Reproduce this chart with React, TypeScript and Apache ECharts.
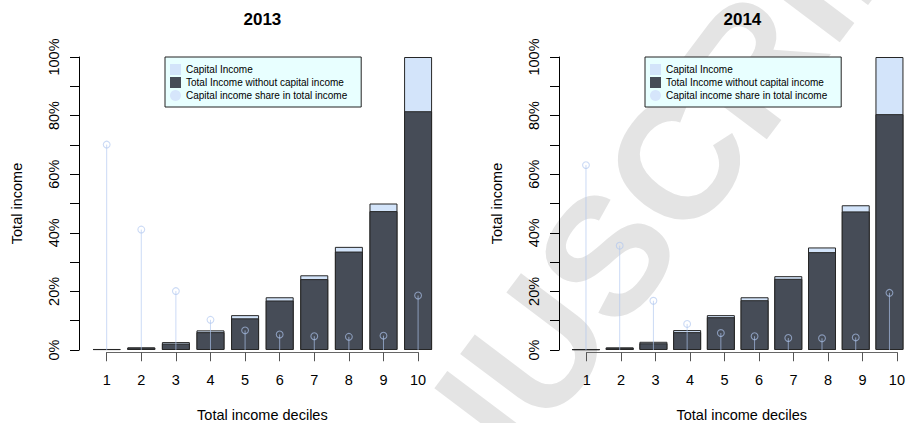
import { useEffect, useRef } from "react";
import * as echarts from "echarts";

// Income deciles on the horizontal axis
const DECILES = [1, 2, 3, 4, 5, 6, 7, 8, 9, 10];

// Total income of each decile, as % of the top decile
const totalIncome2013 = [0.35, 0.9, 2.7, 6.7, 11.9, 18.0, 25.5, 35.2, 50.0, 100];
const withoutCapital2013 = [0.3, 0.8, 2.2, 6.1, 10.8, 16.9, 24.2, 33.6, 47.4, 81.5];
// Capital income share in the decile's total income (%)
const capitalShare2013 = [70.1, 41.1, 20.1, 10.3, 6.7, 5.3, 4.7, 4.5, 4.9, 18.6];

const totalIncome2014 = [0.3, 0.9, 2.8, 6.8, 11.9, 18.0, 25.2, 35.0, 49.4, 100];
const withoutCapital2014 = [0.25, 0.75, 2.3, 6.1, 11.2, 17.0, 24.3, 33.4, 47.3, 80.5];
const capitalShare2014 = [63.1, 35.6, 16.8, 8.9, 5.8, 4.7, 4.1, 4.0, 4.3, 19.5];

const Y_TICKS = [0, 20, 40, 60, 80, 100];

const FONT = "'Liberation Sans', Arial, Helvetica, sans-serif";
const DARK = "#464C57";
const LIGHT = "#D3E4FA";
const STEM = "rgba(175,198,240,0.65)";
const BORDER = "#262626";

const NAME_CAP = "Capital Income";
const NAME_REST = "Total Income without capital income";
const NAME_SHARE = "Capital income share in total income";

// panel geometry
const UNIT = 34.6; // px per decile
const X_MIN = 0.2;
const X_MAX = 10.55;
const AXIS_LEFT = 79;
const PLOT_TOP = 57;
const PLOT_H = 293;

function panel(
  idx: number,
  year: string,
  total: number[],
  without: number[],
  share: number[],
  ox: number
) {
  const main = idx * 2;
  const axisGrid = idx * 2 + 1;
  const centre = ox + AXIS_LEFT + (1 - X_MIN) * UNIT + 4.5 * UNIT;

  const grids = [
    { left: ox + AXIS_LEFT, top: PLOT_TOP, width: (X_MAX - X_MIN) * UNIT, height: PLOT_H },
    {
      left: ox + AXIS_LEFT + (1 - X_MIN) * UNIT,
      top: PLOT_TOP + PLOT_H + 2,
      width: 9 * UNIT,
      height: 1,
    },
  ];

  const xAxes = [
    { gridIndex: main, type: "value", min: X_MIN, max: X_MAX, show: false },
    {
      gridIndex: axisGrid,
      type: "value",
      min: 1,
      max: 10,
      interval: 1,
      axisLine: { show: true, lineStyle: { color: "#666", width: 1 } },
      axisTick: { show: true, length: 9, lineStyle: { color: "#555", width: 1 } },
      axisLabel: { fontSize: 14.5, color: "#000", margin: 20, fontFamily: FONT },
      splitLine: { show: false },
      name: "Total income deciles",
      nameLocation: "middle",
      nameGap: 55,
      nameTextStyle: { fontSize: 14.5, color: "#000", fontFamily: FONT },
    },
  ];

  const yAxes = [
    {
      gridIndex: main,
      type: "value",
      min: 0,
      max: 100,
      interval: 10,
      axisLine: { show: true, lineStyle: { color: "#000", width: 1 } },
      axisTick: { show: true, length: 9, lineStyle: { color: "#000", width: 1 } },
      axisLabel: {
        rotate: 90,
        margin: 18,
        fontSize: 14.5,
        color: "#000",
        fontFamily: FONT,
        formatter: (v: number) => (Y_TICKS.includes(v) ? `${v}%` : ""),
      },
      splitLine: { show: false },
      name: "Total income",
      nameLocation: "middle",
      nameRotate: 90,
      nameGap: 55,
      nameTextStyle: { fontSize: 14.5, color: "#000", fontFamily: FONT },
    },
    { gridIndex: axisGrid, type: "value", min: 0, max: 1, show: false },
  ];

  const series = [
    {
      // full bar: total income of the decile
      name: NAME_CAP,
      type: "bar",
      xAxisIndex: main,
      yAxisIndex: main,
      barWidth: 28,
      barGap: "-100%",
      itemStyle: { color: LIGHT, borderColor: BORDER, borderWidth: 1 },
      data: DECILES.map((d, i) => [d, total[i]]),
      z: 2,
    },
    {
      // inner bar: income without the capital part
      name: NAME_REST,
      type: "bar",
      xAxisIndex: main,
      yAxisIndex: main,
      barWidth: 28,
      barGap: "-100%",
      itemStyle: { color: DARK, borderColor: BORDER, borderWidth: 1 },
      data: DECILES.map((d, i) => [d, without[i]]),
      z: 3,
    },
    {
      name: NAME_SHARE,
      type: "custom",
      xAxisIndex: main,
      yAxisIndex: main,
      encode: { x: 0, y: 1 },
      itemStyle: { color: STEM },
      data: DECILES.map((d, i) => [d, share[i]]),
      z: 5,
      renderItem: (_params: any, api: any) => {
        const x = api.value(0);
        const v = api.value(1);
        const base = api.coord([x, 0]);
        const top = api.coord([x, v]);
        return {
          type: "group",
          children: [
            {
              type: "line",
              shape: { x1: base[0], y1: base[1], x2: top[0], y2: top[1] },
              style: { stroke: STEM, lineWidth: 1 },
            },
            {
              type: "circle",
              shape: { cx: top[0], cy: top[1], r: 3.4 },
              style: { fill: "none", stroke: STEM, lineWidth: 1.1 },
            },
          ],
        };
      },
    },
  ];

  const title = {
    text: year,
    left: centre,
    top: 11,
    textAlign: "center",
    padding: 0,
    textStyle: { fontSize: 17, fontWeight: "bold", color: "#000", fontFamily: FONT },
  };

  const legend = {
    orient: "vertical",
    left: ox + 165,
    top: 57,
    itemWidth: 11,
    itemHeight: 11,
    itemGap: 2,
    padding: [7, 14, 6, 5],
    backgroundColor: "#E8FFFF",
    borderColor: "#222",
    borderWidth: 1,
    borderRadius: 0,
    selectedMode: false,
    itemStyle: { borderWidth: 0 },
    textStyle: { fontSize: 10, color: "#000", fontFamily: FONT },
    data: [
      { name: NAME_CAP, icon: "rect", itemStyle: { color: LIGHT, borderWidth: 0 } },
      { name: NAME_REST, icon: "rect", itemStyle: { color: DARK, borderWidth: 0 } },
      { name: NAME_SHARE, icon: "circle", itemStyle: { color: "#D6E6FB", borderWidth: 0 } },
    ],
  };

  return { grids, xAxes, yAxes, series, title, legend };
}

function buildOption() {
  const p1 = panel(0, "2013", totalIncome2013, withoutCapital2013, capitalShare2013, 0);
  const p2 = panel(1, "2014", totalIncome2014, withoutCapital2014, capitalShare2014, 480);
  return {
    animation: false,
    backgroundColor: "#fff",
    textStyle: { fontFamily: FONT },
    title: [p1.title, p2.title],
    legend: [p1.legend, p2.legend],
    grid: [...p1.grids, ...p2.grids],
    xAxis: [...p1.xAxes, ...p2.xAxes],
    yAxis: [...p1.yAxes, ...p2.yAxes],
    series: [...p1.series, ...p2.series],
    graphic: {
      elements: [
        {
          // diagonal watermark across the second panel
          type: "text",
          x: 607,
          y: 255,
          rotation: (53 * Math.PI) / 180,
          z: -10,
          silent: true,
          style: {
            text: "MANUSCRIPT",
            fontSize: 168,
            fontWeight: "bold",
            fontFamily: FONT,
            fill: "#E4E4E4",
            align: "center",
            verticalAlign: "middle",
          },
        },
      ],
    },
  };
}

export default function App() {
  const ref = useRef<HTMLDivElement>(null);
  useEffect(() => {
    document.body.style.margin = "0";
    const chart = echarts.init(ref.current!, null, { renderer: "svg" });
    chart.setOption(buildOption() as any);
    return () => chart.dispose();
  }, []);
  return <div ref={ref} style={{ width: 908, height: 423, overflow: "hidden" }} />;
}
